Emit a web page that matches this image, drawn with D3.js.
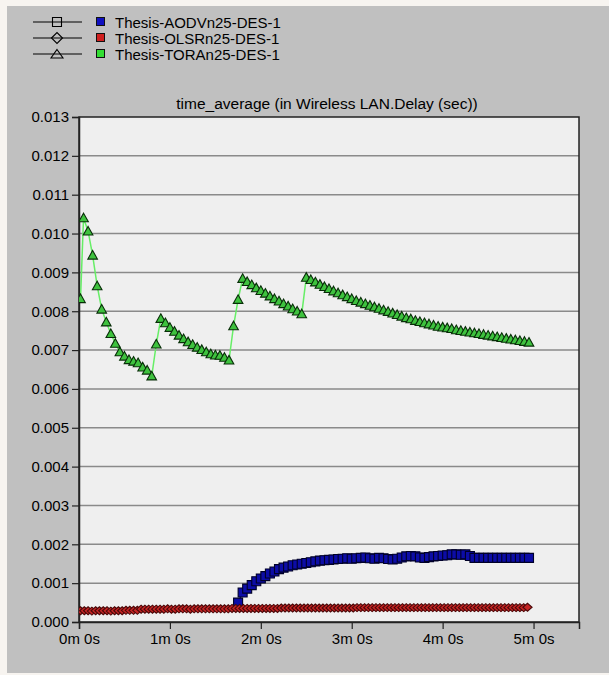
<!DOCTYPE html>
<html><head><meta charset="utf-8">
<script src="https://cdn.jsdelivr.net/npm/d3@7"></script>
<style>body{margin:0;background:#fff;} text{font-family:"Liberation Sans",Arial,sans-serif;fill:#000;}</style>
</head><body><svg id="c" width="609" height="675"></svg>
<script>
const chartTitle = "time_average (in Wireless LAN.Delay (sec))";
const seriesNames = ["Thesis-AODVn25-DES-1", "Thesis-OLSRn25-DES-1", "Thesis-TORAn25-DES-1"];
const xTickSeconds = [0, 60, 120, 180, 240, 300];
const xTickLabels = ["0m 0s", "1m 0s", "2m 0s", "3m 0s", "4m 0s", "5m 0s"];
const yTickValues = [0, 0.001, 0.002, 0.003, 0.004, 0.005, 0.006, 0.007, 0.008, 0.009, 0.010, 0.011, 0.012, 0.013];

const aodvTimes = [105,108,111,114,117,120,123,126,129,132,135,138,141,144,147,150,153,156,159,162,165,168,171,174,177,180,183,186,189,192,195,198,201,204,207,210,213,216,219,222,225,228,231,234,237,240,243,246,249,252,255,258,261,264,267,270,273,276,279,282,285,288,291,294,297];
const aodvDelay = [0.00050,0.00076,0.00086,0.00095,0.00105,0.00112,0.00118,0.00125,0.00130,0.00136,0.00140,0.00143,0.00146,0.00148,0.00150,0.00152,0.00154,0.00156,0.00158,0.00159,0.00160,0.00161,0.00162,0.00163,0.00164,0.00163,0.00164,0.00165,0.00166,0.00164,0.00163,0.00165,0.00164,0.00162,0.00161,0.00163,0.00166,0.00169,0.00170,0.00169,0.00166,0.00165,0.00167,0.00169,0.00170,0.00171,0.00172,0.00174,0.00174,0.00173,0.00174,0.00170,0.00165,0.00165,0.00165,0.00165,0.00165,0.00165,0.00165,0.00165,0.00165,0.00165,0.00165,0.00165,0.00165];

const olsrTimes = [1,3.5,6,8.5,11,13.5,16,18.5,21,23.5,26,28.5,31,33.5,36,38.5,41,43.5,46,48.5,51,53.5,56,58.5,61,63.5,66,68.5,71,73.5,76,78.5,81,83.5,86,88.5,91,93.5,96,98.5,101,103.5,106,108.5,111,113.5,116,118.5,121,123.5,126,128.5,131,133.5,136,138.5,141,143.5,146,148.5,151,153.5,156,158.5,161,163.5,166,168.5,171,173.5,176,178.5,181,183.5,186,188.5,191,193.5,196,198.5,201,203.5,206,208.5,211,213.5,216,218.5,221,223.5,226,228.5,231,233.5,236,238.5,241,243.5,246,248.5,251,253.5,256,258.5,261,263.5,266,268.5,271,273.5,276,278.5,281,283.5,286,288.5,291,293.5,296];
const olsrDelay = [0.00029,0.00029,0.00029,0.00028,0.00029,0.00029,0.00029,0.00029,0.00028,0.00029,
0.00029,0.00029,0.00030,0.00030,0.00030,0.00030,0.00033,0.00033,0.00033,0.00033,
0.00033,0.00033,0.00033,0.00034,0.00033,0.00033,0.00034,0.00034,0.00034,0.00033,
0.00034,0.00034,0.00034,0.00034,0.00034,0.00034,0.00034,0.00034,0.00034,0.00034,
0.00035,0.00035,0.00035,0.00035,0.00035,0.00035,0.00035,0.00035,0.00035,0.00035,
0.00035,0.00035,0.00035,0.00036,0.00036,0.00036,0.00036,0.00036,0.00036,0.00036,
0.00036,0.00036,0.00036,0.00036,0.00036,0.00036,0.00036,0.00036,0.00036,0.00036,
0.00036,0.00036,0.00036,0.00037,0.00037,0.00037,0.00037,0.00037,0.00037,0.00037,
0.00037,0.00037,0.00037,0.00037,0.00037,0.00037,0.00037,0.00037,0.00037,0.00037,
0.00037,0.00037,0.00037,0.00037,0.00037,0.00037,0.00037,0.00037,0.00037,0.00037,
0.00037,0.00037,0.00037,0.00037,0.00037,0.00037,0.00037,0.00037,0.00037,0.00037,
0.00037,0.00037,0.00037,0.00037,0.00037,0.00037,0.00037,0.00037,0.00038];

const toraTimes = [1,3,6,9,12,15,18,21,24,27,30,33,36,39,42,45,48,51,54,57,60,63,66,69,72,75,78,81,84,87,90,93,96,99,102,105,108,111,114,117,120,123,126,129,132,135,138,141,144,147,150,153,156,159,162,165,168,171,174,177,180,183,186,189,192,195,198,201,204,207,210,213,216,219,222,225,228,231,234,237,240,243,246,249,252,255,258,261,264,267,270,273,276,279,282,285,288,291,294,297];
const toraDelay = [0.00832,0.01040,0.01006,0.00944,0.00865,0.00805,0.00772,0.00742,0.00717,0.00695,
0.00684,0.00675,0.00671,0.00667,0.00656,0.00648,0.00633,0.00715,0.00781,0.00770,
0.00758,0.00748,0.00738,0.00729,0.00721,0.00714,0.00707,0.00701,0.00695,0.00690,
0.00687,0.00686,0.00681,0.00674,0.00762,0.00830,0.00884,0.00876,0.00868,0.00860,
0.00853,0.00846,0.00839,0.00832,0.00826,0.00819,0.00813,0.00806,0.00800,0.00793,
0.00887,0.00881,0.00875,0.00869,0.00863,0.00858,0.00852,0.00847,0.00842,0.00837,
0.00832,0.00827,0.00823,0.00819,0.00815,0.00811,0.00807,0.00803,0.00799,0.00795,
0.00791,0.00787,0.00783,0.00780,0.00776,0.00773,0.00770,0.00767,0.00764,0.00761,
0.00759,0.00757,0.00755,0.00752,0.00750,0.00748,0.00746,0.00744,0.00742,0.00740,
0.00738,0.00736,0.00734,0.00732,0.00730,0.00728,0.00726,0.00724,0.00722,0.00720];

const svg = d3.select("#c");
const W = 609, H = 675;
const M = {left: 79, top: 117, right: 579, bottom: 622};

// background panel
svg.append("rect").attr("x", 0).attr("y", 0).attr("width", W).attr("height", H).attr("fill", "#f7f4f0");
svg.append("rect").attr("x", 7).attr("y", 6).attr("width", W - 7).attr("height", 667).attr("fill", "#c0c0c0");

const x = d3.scaleLinear().domain([0, 330]).range([M.left, M.right]);
const y = d3.scaleLinear().domain([0, 0.013]).range([M.bottom, M.top]);

svg.append("rect").attr("x", M.left).attr("y", M.top).attr("width", M.right - M.left).attr("height", M.bottom - M.top).attr("fill", "#efefef");

// gridlines
svg.append("g").selectAll("line").data(yTickValues.slice(1, -1)).join("line")
  .attr("x1", M.left).attr("x2", M.right).attr("y1", d => y(d)).attr("y2", d => y(d))
  .attr("stroke", "#8a8a8a").attr("stroke-width", 1.5);

// frame
svg.append("rect").attr("x", M.left).attr("y", M.top).attr("width", M.right - M.left).attr("height", M.bottom - M.top)
  .attr("fill", "none").attr("stroke", "#222").attr("stroke-width", 1.5);

// axes
const yAxis = d3.axisLeft(y).tickValues(yTickValues).tickFormat(d3.format(".3f")).tickSize(7).tickPadding(3);
const gy = svg.append("g").attr("transform", `translate(${M.left},0)`).call(yAxis);
const xAxis = d3.axisBottom(x).tickValues(xTickSeconds).tickFormat((d, i) => xTickLabels[i]).tickSize(7).tickPadding(4);
const gx = svg.append("g").attr("transform", `translate(0,${M.bottom})`).call(xAxis);
[gx, gy].forEach(g => {
  g.select(".domain").attr("stroke", "#222").attr("stroke-width", 1.5);
  g.selectAll(".tick line").attr("stroke", "#222").attr("stroke-width", 1.2);
  g.selectAll("text").attr("font-size", 15).attr("font-family", "'Liberation Sans',Arial,sans-serif").attr("fill", "#000");
});

// title
svg.append("text").attr("x", (M.left + M.right) / 2 - 2).attr("y", 109).attr("text-anchor", "middle")
  .attr("font-size", 15.5).text(chartTitle);

svg.append("defs").append("clipPath").attr("id", "pc").append("rect")
  .attr("x", M.left).attr("y", M.top - 8).attr("width", M.right - M.left).attr("height", M.bottom - M.top + 8);

const plot = svg.append("g").attr("clip-path", "url(#pc)");

const squarePath = "M-4.5,-4.5L4.5,-4.5L4.5,4.5L-4.5,4.5Z";
const diamondPath = "M-4.6,0L0,-4L4.6,0L0,4Z";
const trianglePath = "M0,-4.8L4.8,3.8L-4.8,3.8Z";

function drawSeries(times, vals, lineColor, fill, stroke, path) {
  const pts = times.map((t, i) => [t, vals[i]]);
  plot.append("path").datum(pts).attr("fill", "none").attr("stroke", lineColor).attr("stroke-width", 1.5)
    .attr("d", d3.line().x(d => x(d[0])).y(d => y(d[1])));
  plot.append("g").selectAll("path").data(pts).join("path")
    .attr("transform", d => `translate(${x(d[0])},${y(d[1])})`)
    .attr("d", path).attr("fill", fill).attr("stroke", stroke).attr("stroke-width", 1.1);
}
drawSeries(aodvTimes, aodvDelay, "#1a1aa0", "#0c0ca6", "#000028", squarePath);
drawSeries(olsrTimes, olsrDelay, "#c02020", "#c42424", "#4a0808", diamondPath);
drawSeries(toraTimes, toraDelay, "#66ee66", "#3ec23e", "#082e08", trianglePath);

// legend
const legendRows = [22, 38, 54];
const legendSym = ["M-4.5,-4.5L4.5,-4.5L4.5,4.5L-4.5,4.5Z", "M-5.5,0L0,-5.5L5.5,0L0,5.5Z", "M0,-4.5L6,4L-6,4Z"];
const legendColors = ["#1010c0", "#d02020", "#33dd33"];
const lg = svg.append("g");
legendRows.forEach((ry, i) => {
  lg.append("line").attr("x1", 33).attr("x2", 82).attr("y1", ry).attr("y2", ry).attr("stroke", "#000").attr("stroke-width", 1.2);
  lg.append("path").attr("transform", `translate(57,${ry})`).attr("d", legendSym[i]).attr("fill", "none").attr("stroke", "#000").attr("stroke-width", 1.1);
  lg.append("rect").attr("x", 96.5).attr("y", ry - 4.5).attr("width", 8).attr("height", 8).attr("fill", legendColors[i]).attr("stroke", "#111").attr("stroke-width", 1);
  lg.append("text").attr("x", 115).attr("y", ry + 5.5).attr("font-size", 15).text(seriesNames[i]);
});
</script>
</body></html>
